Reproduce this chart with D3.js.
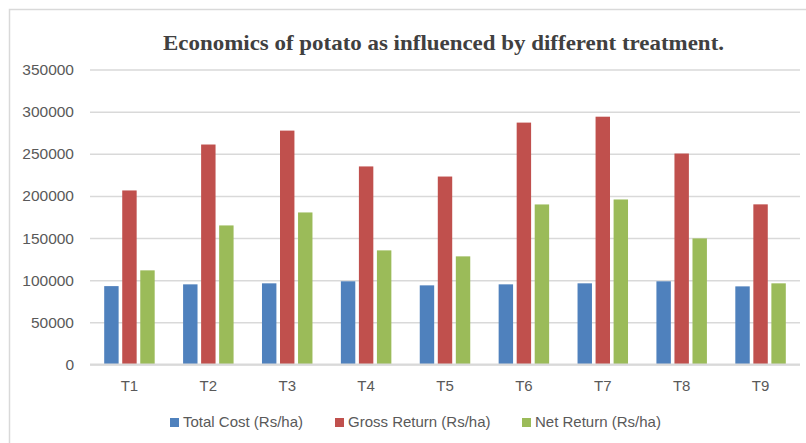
<!DOCTYPE html>
<html>
<head>
<meta charset="utf-8">
<script src="https://cdn.jsdelivr.net/npm/d3@7"></script>
<style>
  body { margin: 0; background: #fff; }
  .tick text { font-family: "Liberation Sans", Arial, sans-serif; fill: #595959; }
</style>
</head>
<body>
<div id="chart"></div>
<script>
const treatments = ["T1", "T2", "T3", "T4", "T5", "T6", "T7", "T8", "T9"];
const seriesNames = ["Total Cost (Rs/ha)", "Gross Return (Rs/ha)", "Net Return (Rs/ha)"];
const totalCost   = [93000, 95100, 96300, 98700, 93900, 95100, 96300, 98700, 92700];
const grossReturn = [206500, 261000, 277500, 235000, 223000, 287000, 294000, 250300, 190000];
const netReturn   = [111700, 165000, 180400, 135400, 128300, 189900, 195800, 149600, 96300];
const yTicks = [0, 50000, 100000, 150000, 200000, 250000, 300000, 350000];
const colors = ["#4F81BD", "#C0504D", "#9BBB59"];

const width = 806, height = 443;
const svg = d3.select("#chart").append("svg")
  .attr("width", width).attr("height", height);

// chart frame
svg.append("rect")
  .attr("x", 9.5).attr("y", 9.5)
  .attr("width", 820).attr("height", 460)
  .attr("fill", "none").attr("stroke", "#D9D9D9").attr("stroke-width", 1.5);

svg.append("text")
  .attr("x", 163).attr("y", 50)
  .attr("textLength", 561)
  .attr("lengthAdjust", "spacingAndGlyphs")
  .attr("font-family", "Liberation Serif, Times New Roman, serif")
  .attr("font-weight", "bold")
  .attr("font-size", 21)
  .attr("fill", "#404040")
  .text("Economics of potato as influenced by different treatment.");

const x0 = d3.scaleBand().domain(treatments).range([90, 800]);
const bw = x0.bandwidth();
const x1 = d3.scaleBand().domain(d3.range(3))
  .range([bw * 0.18, bw * 0.82]).paddingInner(0.2);
const y = d3.scaleLinear().domain([0, 350000]).range([364.5, 69.5]);

// gridlines + y labels
const yAxis = svg.append("g")
  .attr("transform", "translate(90,0)")
  .call(d3.axisLeft(y).tickValues(yTicks).tickSize(-(800 - 90)).tickPadding(16).tickFormat(d3.format("d")));
yAxis.select(".domain").remove();
yAxis.selectAll(".tick line").attr("stroke", "#D9D9D9").attr("stroke-width", 1.5);
yAxis.selectAll(".tick text").attr("font-size", 15.5);

const data = treatments.map((t, i) => ({ t, vals: [totalCost[i], grossReturn[i], netReturn[i]] }));

const groups = svg.append("g").selectAll("g")
  .data(data).join("g")
  .attr("transform", d => `translate(${x0(d.t)},0)`);

groups.selectAll("rect")
  .data(d => d.vals.map((v, k) => ({ v, k })))
  .join("rect")
  .attr("x", d => x1(d.k))
  .attr("width", x1.bandwidth())
  .attr("y", d => y(d.v))
  .attr("height", d => y(0) - y(d.v))
  .attr("fill", d => colors[d.k]);

// baseline
svg.append("line")
  .attr("x1", 90).attr("x2", 800)
  .attr("y1", y(0)).attr("y2", y(0))
  .attr("stroke", "#D9D9D9").attr("stroke-width", 2);

// x labels
const xAxis = svg.append("g")
  .attr("transform", `translate(0,${y(0)})`)
  .call(d3.axisBottom(x0).tickSize(0).tickPadding(16));
xAxis.select(".domain").remove();
xAxis.selectAll(".tick text").attr("font-size", 15);

// legend
const legendX = [170, 335, 522];
const legend = svg.append("g").selectAll("g")
  .data(seriesNames).join("g")
  .attr("transform", (d, i) => `translate(${legendX[i]},418)`);
legend.append("rect").attr("width", 9).attr("height", 9).attr("fill", (d, i) => colors[i]);
legend.append("text")
  .attr("x", 13).attr("y", 9)
  .attr("font-family", "Liberation Sans, Arial, sans-serif")
  .attr("font-size", 15)
  .attr("fill", "#595959")
  .text(d => d);
</script>
</body>
</html>
